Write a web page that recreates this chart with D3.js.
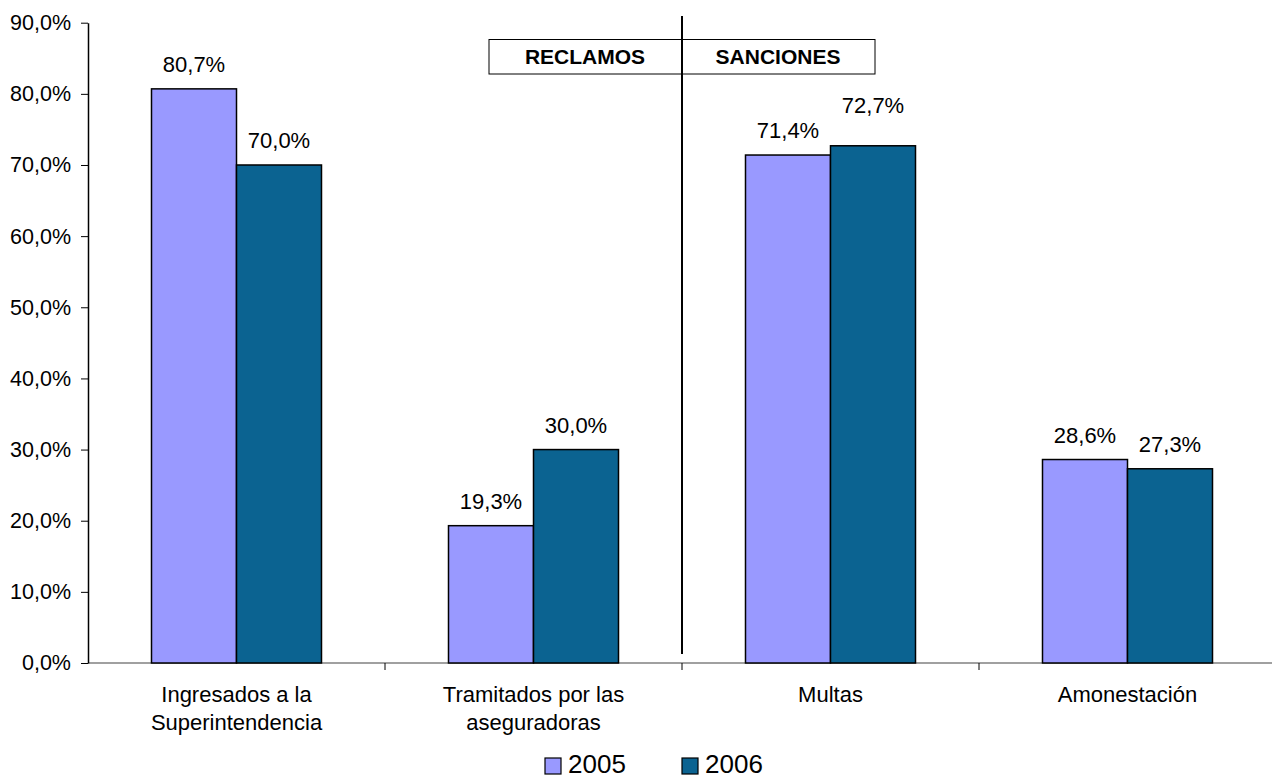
<!DOCTYPE html>
<html>
<head>
<meta charset="utf-8">
<script src="https://cdn.jsdelivr.net/npm/d3@7"></script>
<style>
  body { margin: 0; background: #fff; }
  text { font-family: "Liberation Sans", Arial, sans-serif; fill: #000; }
</style>
</head>
<body>
<div id="chart"></div>
<script>
// Chart data
const categories = [
  ["Ingresados a la", "Superintendencia"],
  ["Tramitados por las", "aseguradoras"],
  ["Multas"],
  ["Amonestación"]
];
const years = ["2005", "2006"];
const values2005 = [80.7, 19.3, 71.4, 28.6];
const values2006 = [70.0, 30.0, 72.7, 27.3];
const yTicks = [0, 10, 20, 30, 40, 50, 60, 70, 80, 90];
const groupLabels = ["RECLAMOS", "SANCIONES"];

// Size and styles
const [w, h] = [1272, 779];
const plotLeft = 88, plotRight = 1276;
const plotTop = 22.7, plotBottom = 663;
const colors = { "2005": "#9999ff", "2006": "#0b6391" };
const fmt = (d) => d.toFixed(1).replace(".", ",") + "%";
// extra lift for the one label that was moved up in the original
const labelLift = { "Multas|2006": 16 };

const keys = categories.map((c) => c.join(" "));
const rows = keys.map((k, i) => ({ key: k, lines: categories[i], "2005": values2005[i], "2006": values2006[i] }));

const p = 0.4276;
const x0 = d3.scaleBand().domain(keys).range([plotLeft, plotRight]).paddingInner(p).paddingOuter(p / 2);
const x1 = d3.scaleBand().domain(years).range([0, x0.bandwidth()]);
const y = d3.scaleLinear().domain([0, 90]).range([plotBottom, plotTop]);
const step = x0.step();

const svg = d3.select("#chart").append("svg").attr("width", w).attr("height", h);

// x axis line and boundary ticks
svg.append("line")
  .attr("x1", plotLeft).attr("x2", plotRight)
  .attr("y1", y(0)).attr("y2", y(0))
  .attr("stroke", "#808080").attr("stroke-width", 1.5);

keys.slice(1).forEach((k) => {
  const bx = x0(k) - step * p / 2;
  svg.append("line")
    .attr("x1", bx).attr("x2", bx)
    .attr("y1", y(0)).attr("y2", y(0) + 7)
    .attr("stroke", "#000").attr("stroke-width", 1);
});

// bars
const groups = svg.selectAll("g.grp")
  .data(rows)
  .enter()
  .append("g")
  .attr("class", "grp")
  .attr("transform", (d) => `translate(${x0(d.key)},0)`);

groups.selectAll("rect")
  .data((d) => years.map((yr) => ({ yr: yr, v: d[yr] })))
  .enter()
  .append("rect")
  .attr("x", (d) => x1(d.yr))
  .attr("y", (d) => y(d.v))
  .attr("width", x1.bandwidth())
  .attr("height", (d) => y(0) - y(d.v))
  .attr("fill", (d) => colors[d.yr])
  .attr("stroke", "#000")
  .attr("stroke-width", 1.5);

groups.selectAll("text.val")
  .data((d) => years.map((yr) => ({ yr: yr, v: d[yr], id: d.lines[0] + "|" + yr })))
  .enter()
  .append("text")
  .attr("class", "val")
  .attr("x", (d) => x1(d.yr) + x1.bandwidth() / 2)
  .attr("y", (d) => y(d.v) - 17 - (labelLift[d.id] || 0))
  .attr("text-anchor", "middle")
  .style("font-size", "22px")
  .text((d) => fmt(d.v));

// y axis
const yAxis = d3.axisLeft(y)
  .tickValues(yTicks)
  .tickFormat(fmt)
  .tickSize(7)
  .tickSizeOuter(0)
  .tickPadding(10);

const gy = svg.append("g")
  .attr("transform", `translate(${plotLeft},0)`)
  .call(yAxis);
gy.select(".domain").attr("stroke", "#000").attr("stroke-width", 1.5);
gy.selectAll(".tick line").attr("stroke", "#000");
gy.selectAll(".tick text")
  .style("font-size", "21.5px")
  .style("font-family", "Liberation Sans, Arial, sans-serif")
  .attr("fill", "#000");

// category labels
svg.selectAll("text.cat")
  .data(rows)
  .enter()
  .append("text")
  .attr("class", "cat")
  .attr("text-anchor", "middle")
  .style("font-size", "22px")
  .each(function (d) {
    const t = d3.select(this);
    d.lines.forEach((ln, i) => {
      t.append("tspan")
        .attr("x", x0(d.key) + x0.bandwidth() / 2)
        .attr("y", 702 + i * 28)
        .text(ln);
    });
  });

// divider between RECLAMOS and SANCIONES
const divX = x0(keys[2]) - step * p / 2;
svg.append("line")
  .attr("x1", divX).attr("x2", divX)
  .attr("y1", 16).attr("y2", 654)
  .attr("stroke", "#000").attr("stroke-width", 2);

// header box
svg.append("rect")
  .attr("x", divX - 193).attr("y", 39.5)
  .attr("width", 386).attr("height", 34.5)
  .attr("fill", "#fff")
  .attr("stroke", "#000").attr("stroke-width", 1);
svg.append("line")
  .attr("x1", divX).attr("x2", divX)
  .attr("y1", 39.5).attr("y2", 74)
  .attr("stroke", "#000").attr("stroke-width", 2);

groupLabels.forEach((g, i) => {
  svg.append("text")
    .attr("x", divX + (i === 0 ? -97 : 96))
    .attr("y", 63.5)
    .attr("text-anchor", "middle")
    .style("font-size", "21px")
    .style("font-weight", "bold")
    .text(g);
});

// legend
const legendX = [545, 682];
years.forEach((yr, i) => {
  svg.append("rect")
    .attr("x", legendX[i]).attr("y", 758)
    .attr("width", 16).attr("height", 16)
    .attr("fill", colors[yr])
    .attr("stroke", "#000").attr("stroke-width", 1.2);
  svg.append("text")
    .attr("x", legendX[i] + 23)
    .attr("y", 773)
    .style("font-size", "26px")
    .text(yr);
});
</script>
</body>
</html>
